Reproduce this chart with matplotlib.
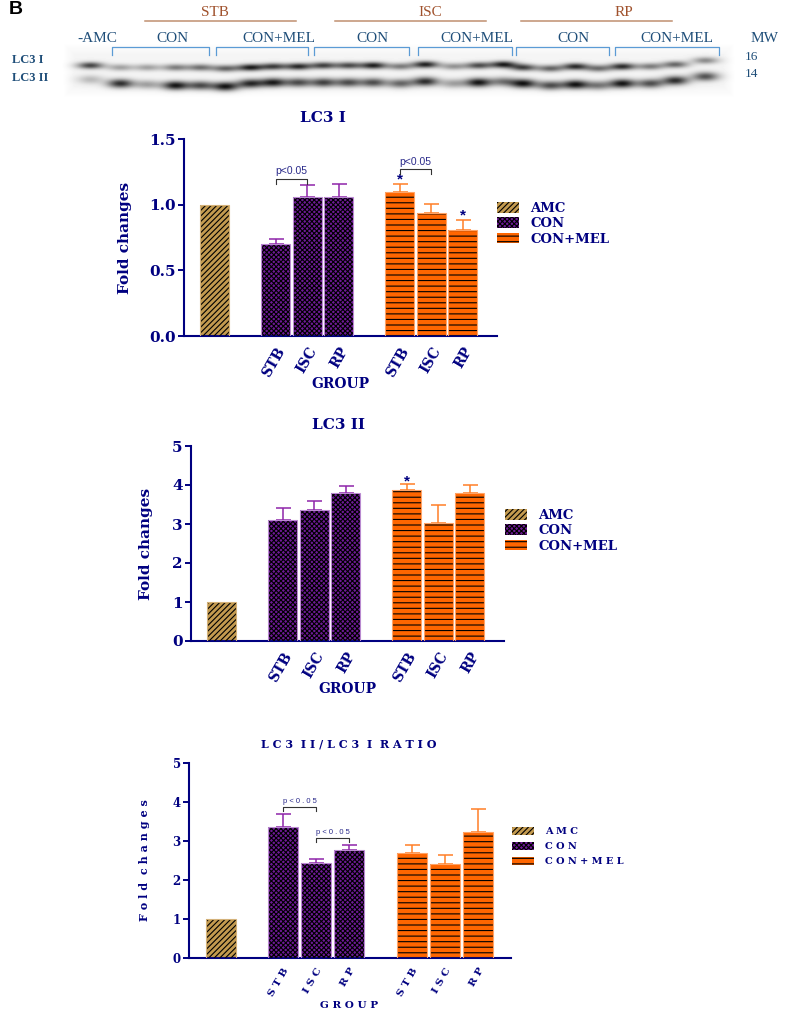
import numpy as np
import matplotlib
matplotlib.use('Agg')
import matplotlib.pyplot as plt
from matplotlib.patches import Patch
from matplotlib.transforms import ScaledTranslation

W, H = 787, 1010
NAVY = '#000080'
BLUE = '#1F4E79'
BROWN = '#A0522D'

# bar groups
labels = ['AMC', 'CON', 'CON+MEL']
tick_names = ['STB', 'ISC', 'RP', 'STB', 'ISC', 'RP']

# values
lc3i_vals = [1.0, 0.70, 1.06, 1.055, 1.10, 0.94, 0.805]
lc3i_tops = [None, 0.74, 1.15, 1.155, 1.155, 1.005, 0.885]

lc3ii_vals = [1.0, 3.1, 3.35, 3.8, 3.87, 3.03, 3.8]
lc3ii_tops = [None, 3.4, 3.58, 3.97, 4.02, 3.5, 4.0]

ratio_vals = [1.0, 3.37, 2.43, 2.78, 2.7, 2.42, 3.22]
ratio_tops = [None, 3.7, 2.55, 2.9, 2.9, 2.65, 3.83]

# blot lanes, band strength 0-1
lane_x = [90, 120, 147, 175, 200, 225, 250, 273, 298, 323, 348, 373, 400,
          425, 453, 478, 503, 523, 550, 575, 598, 622, 650, 675, 705]
upper_band = [.75, .35, .35, .5, .55, .6, .9, .75, .85, .75, .7, .9, .5,
              .9, .4, .7, .9, .75, .6, .85, .55, .85, .5, .6, .45]
lower_band = [.25, .85, .35, .95, .7, .95, .85, .9, .7, .75, .7, .7, .6,
              .85, .35, .95, .5, .95, .7, .95, .5, .95, .7, .85, .7]
upper_y = [65, 67, 67, 67, 67, 68, 67, 66, 66, 65, 65, 65, 66,
           64, 66, 65, 64, 67, 68, 66, 68, 66, 66, 64, 60]
lower_y = [79, 83, 84, 85, 85, 86, 83, 82, 82, 82, 82, 82, 83,
           81, 83, 82, 81, 83, 85, 84, 85, 83, 83, 80, 76]

plt.rcParams['hatch.linewidth'] = 0.8
fig = plt.figure(figsize=(W / 100, H / 100), dpi=100)


def px_axes(x0, y_top, x1, y_bot):
	return fig.add_axes([x0 / W, 1 - y_bot / H, (x1 - x0) / W, (y_bot - y_top) / H])


# top strip, axes in pixels
top = px_axes(0, 0, W, 110)
top.set_xlim(0, W)
top.set_ylim(110, 0)
top.axis('off')

xx, yy = np.meshgrid(np.arange(62, 735), np.arange(42, 98))
blot = np.zeros(xx.shape)
for lx, a, b, ya, yb in zip(lane_x, upper_band, lower_band, upper_y, lower_y):
	blot += a * np.exp(-(xx - lx) ** 2 / 170.0 - (yy - ya) ** 2 / 12.0)
	blot += b * np.exp(-(xx - lx) ** 2 / 170.0 - (yy - yb) ** 2 / 20.0)
# background fades out to white at the edge of the film
edge = np.clip(np.minimum.reduce([xx - 62, 735 - xx, yy - 42, 98 - yy]) / 12.0, 0, 1)
shade = 1 - 0.04 * edge - 0.9 * np.clip(blot, 0, 1)
top.imshow(shade, cmap='gray', vmin=0, vmax=1, extent=(62, 735, 98, 42), aspect='auto')
top.set_xlim(0, W)
top.set_ylim(110, 0)

for name, x0, x1, tx in [('STB', 145, 296, 215), ('ISC', 335, 486, 430), ('RP', 521, 672, 624)]:
	top.plot([x0, x1], [20.5, 20.5], color='#C09070', lw=1.1)
	top.text(tx, 12, name, color=BROWN, family='Liberation Serif', fontsize=11, ha='center', va='center')

heads = [('-AMC', 97), ('CON', 172), ('CON+MEL', 279), ('CON', 372), ('CON+MEL', 477),
         ('CON', 573), ('CON+MEL', 677), ('MW', 765)]
for name, tx in heads:
	top.text(tx, 39, name, color=BLUE, family='Liberation Serif', fontsize=11, ha='center', va='center')
for x0, x1 in [(112, 209), (216, 308), (314, 409), (418, 512), (516, 609), (615, 719)]:
	top.plot([x0, x0, x1, x1], [55, 47, 47, 55], color='#5B9BD5', lw=0.9)
top.text(12, 60, 'LC3 I', color=BLUE, family='Liberation Serif', fontsize=9, weight='bold', va='center')
top.text(12, 78, 'LC3 II', color=BLUE, family='Liberation Serif', fontsize=9, weight='bold', va='center')
top.text(745, 57, '16', color=BLUE, family='Liberation Serif', fontsize=9.5, va='center')
top.text(745, 74, '14', color=BLUE, family='Liberation Serif', fontsize=9.5, va='center')
top.text(9, 9, 'B', color='black', family='Liberation Sans', fontsize=14, weight='bold', va='center')

STYLES = {
	'AMC': dict(face='#C39A4F', edge='#D4B27A', hatch='//////', err=None),
	'CON': dict(face='#6E1A96', edge='#B98AD0', hatch='xxxxxxx', err='#8E24AA'),
	'CON+MEL': dict(face='#FF6600', edge='#FFA366', hatch='---', err='#FF7F27'),
}
GROUPS = ['AMC', 'CON', 'CON', 'CON', 'CON+MEL', 'CON+MEL', 'CON+MEL']


def bar_chart(box, xlim, ymax, yticks, fmt, pos, vals, tops, width, title, title_xy, ylab, ylab_x, group, group_xy,
              leg_xy, fs, leg_fs, tick_fs, spaced=False, brackets=(), stars=()):
	ax = px_axes(*box)
	for p, v, t, g in zip(pos, vals, tops, GROUPS):
		st = STYLES[g]
		if t is not None:
			ax.errorbar(p, v, yerr=[[0], [t - v]], color=st['err'], capsize=5.4, lw=1.1, capthick=1.1, zorder=1)
		ax.bar(p, v, width, color=st['face'], zorder=2)
		ax.bar(p, v, width, color='none', edgecolor='black', hatch=st['hatch'], lw=0, zorder=3)
		ax.bar(p, v, width, color='none', edgecolor=st['edge'], lw=0.8, zorder=4)
	ax.set_xlim(*xlim)
	ax.set_ylim(0, ymax)
	ax.set_yticks(yticks)
	ax.set_yticklabels([fmt % t for t in yticks], family='DejaVu Serif', weight='bold', fontsize=tick_fs, color=NAVY)
	ax.set_xticks(pos[1:])
	names = [' '.join(n) for n in tick_names] if spaced else tick_names
	ax.set_xticklabels(names, family='DejaVu Serif', weight='bold', fontsize=leg_fs + 0.5, color=NAVY,
	                   rotation=60, ha='right', rotation_mode='anchor')
	shift = ScaledTranslation(-5 / 100, 0, fig.dpi_scale_trans)
	for lab in ax.get_xticklabels():
		lab.set_transform(lab.get_transform() + shift)
	ax.tick_params(axis='x', length=0, pad=6)
	ax.tick_params(axis='y', length=4, width=1.4, color=NAVY, pad=2)
	for s in ['top', 'right']:
		ax.spines[s].set_visible(False)
	for s in ['left', 'bottom']:
		ax.spines[s].set_color(NAVY)
		ax.spines[s].set_linewidth(1.5)
	ax.patch.set_alpha(0)

	fig.text(title_xy[0] / W, 1 - title_xy[1] / H, title, family='DejaVu Serif', weight='bold', fontsize=fs,
	         color=NAVY, ha='center', va='center')
	fig.text(ylab_x / W, 1 - (box[1] + box[3]) / 2 / H, ylab, family='DejaVu Serif', weight='bold', fontsize=fs,
	         color=NAVY, rotation=90, ha='center', va='center')
	fig.text(group_xy[0] / W, 1 - group_xy[1] / H, group, family='DejaVu Serif', weight='bold', fontsize=leg_fs + 0.5,
	         color=NAVY, ha='center', va='center')

	ptext = 'p < 0 . 0 5' if spaced else 'p<0.05'
	for x0, x1, yb, tip, txt_gap in brackets:
		ax.plot([x0, x0, x1, x1], [tip, yb, yb, tip], color='#333333', lw=0.8, zorder=5)
		ax.text((x0 + x1) / 2, yb + txt_gap, ptext, family='Liberation Sans', fontsize=5.5 if spaced else 7.5,
		        color='#2A2A8A', ha='center', va='bottom')
	for sx, sy in stars:
		ax.text(sx, sy, '*', family='Liberation Sans', fontsize=11, weight='bold', color=NAVY, ha='center', va='center')

	handles = [Patch(facecolor=STYLES[n]['face'], edgecolor=STYLES[n]['edge'], lw=0.8) for n in labels]
	leg = fig.legend(handles, [' '.join(n) if spaced else n for n in labels], loc='upper left',
	                 bbox_to_anchor=(leg_xy[0] / W, 1 - leg_xy[1] / H), frameon=False,
	                 handlelength=15.8 / leg_fs, handleheight=0.9, handletextpad=8.2 / leg_fs,
	                 labelspacing=0.57 if spaced else 0.17, borderpad=0, borderaxespad=0,
	                 prop=dict(family='DejaVu Serif', weight='bold', size=leg_fs), labelcolor=NAVY)
	for h, n in zip(leg.legend_handles, labels):
		h.set_hatch(STYLES[n]['hatch'])
		h.set_edgecolor('black')
		h.set_linewidth(0)
	return ax


pos_a = [0, 1.95, 2.95, 3.95, 5.88, 6.88, 7.88]
pos_c = [0, 1.88, 2.88, 3.88, 5.79, 6.79, 7.79]

bar_chart((184, 139, 497, 336), (-0.97, 8.97), 1.5, [0, 0.5, 1.0, 1.5], '%.1f', pos_a, lc3i_vals, lc3i_tops, 0.92,
          'LC3 I', (323, 118), 'Fold changes', 125, 'GROUP', (340, 384), (497, 202), 11, 9.5, 11,
          brackets=[(1.95, 2.95, 1.195, 1.155, 0.02), (5.88, 6.88, 1.27, 1.235, 0.02)],
          stars=[(5.88, 1.19), (7.88, 0.915)])

bar_chart((191, 446, 504, 641), (-0.97, 8.97), 5, [0, 1, 2, 3, 4, 5], '%d', pos_a, lc3ii_vals, lc3ii_tops, 0.92,
          'LC3 II', (338, 425), 'Fold changes', 146, 'GROUP', (347, 689), (505, 509), 11, 9.5, 11,
          stars=[(5.88, 4.1)])

bar_chart((189, 763, 511, 958), (-0.97, 8.79), 5, [0, 1, 2, 3, 4, 5], '%d', pos_c, ratio_vals, ratio_tops, 0.9,
          'L C 3  I I / L C 3  I  R A T I O', (349, 744), 'F o l d  c h a n g e s', 144, 'G R O U P', (349, 1006),
          (512, 827), 8, 7, 8.5, spaced=True,
          brackets=[(1.88, 2.88, 3.87, 3.78, 0.05), (2.88, 3.88, 3.07, 2.98, 0.05)])

fig.savefig('out.png', dpi=100)
